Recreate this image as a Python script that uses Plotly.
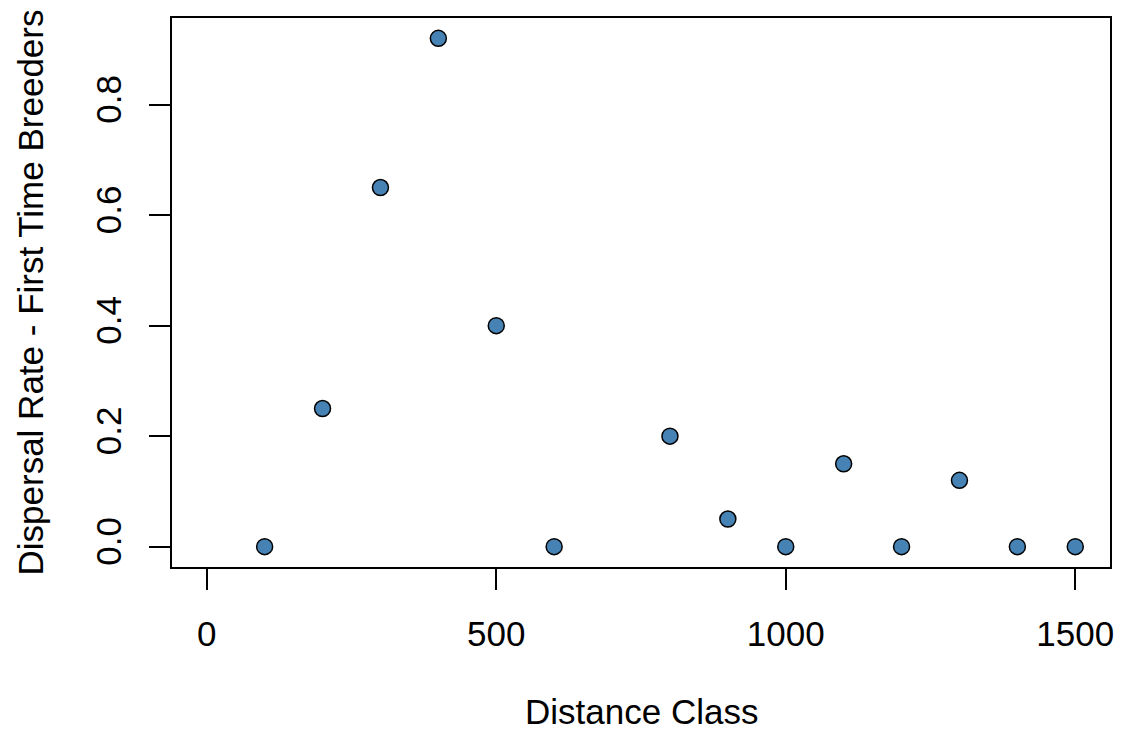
import plotly.graph_objects as go

distance = [100, 200, 300, 400, 500, 600, 800, 900, 1000, 1100, 1200, 1300, 1400, 1500]
rate = [0.0, 0.25, 0.65, 0.92, 0.40, 0.0, 0.20, 0.05, 0.0, 0.15, 0.0, 0.12, 0.0, 0.0]
x_ticks = [0, 500, 1000, 1500]
y_ticks = [0.0, 0.2, 0.4, 0.6, 0.8]
y_tick_labels = ["0.0", "0.2", "0.4", "0.6", "0.8"]

font = "Liberation Sans, Arial, sans-serif"

fig = go.Figure()
fig.add_trace(go.Scatter(
    x=distance, y=rate, mode="markers",
    marker=dict(size=16, color="steelblue", line=dict(color="black", width=1.5)),
    showlegend=False,
))

fig.update_layout(
    width=1122, height=729,
    margin=dict(l=172, r=8, t=18, b=162),
    paper_bgcolor="white", plot_bgcolor="white",
    font=dict(family=font, size=35, color="black"),
    xaxis=dict(
        range=[-60, 1560], tickvals=x_ticks, ticks="outside", ticklen=21,
        tickwidth=1.5, tickcolor="black", showgrid=False, zeroline=False,
        showline=True, linecolor="black", linewidth=1.5, mirror=True,
        ticklabelstandoff=14, tickfont=dict(size=35),
    ),
    yaxis=dict(
        range=[-0.0368, 0.9568], tickvals=y_ticks, ticktext=y_tick_labels,
        ticks="outside", ticklen=21, tickwidth=1.5, tickcolor="black",
        showgrid=False, zeroline=False, showline=True, linecolor="black",
        linewidth=1.5, mirror=True, tickangle=-90, ticklabelstandoff=14,
        tickfont=dict(size=35),
    ),
    annotations=[
        dict(text="Distance Class", xref="paper", yref="paper", x=0.5, y=0,
             xanchor="center", yanchor="middle", yshift=-144, showarrow=False,
             font=dict(size=35)),
        dict(text="Dispersal Rate - First Time Breeders", xref="paper", yref="paper",
             x=0, y=0.5, xanchor="center", yanchor="middle", xshift=-142,
             textangle=-90, showarrow=False, font=dict(size=35)),
    ],
)

fig.write_html("out.html")
